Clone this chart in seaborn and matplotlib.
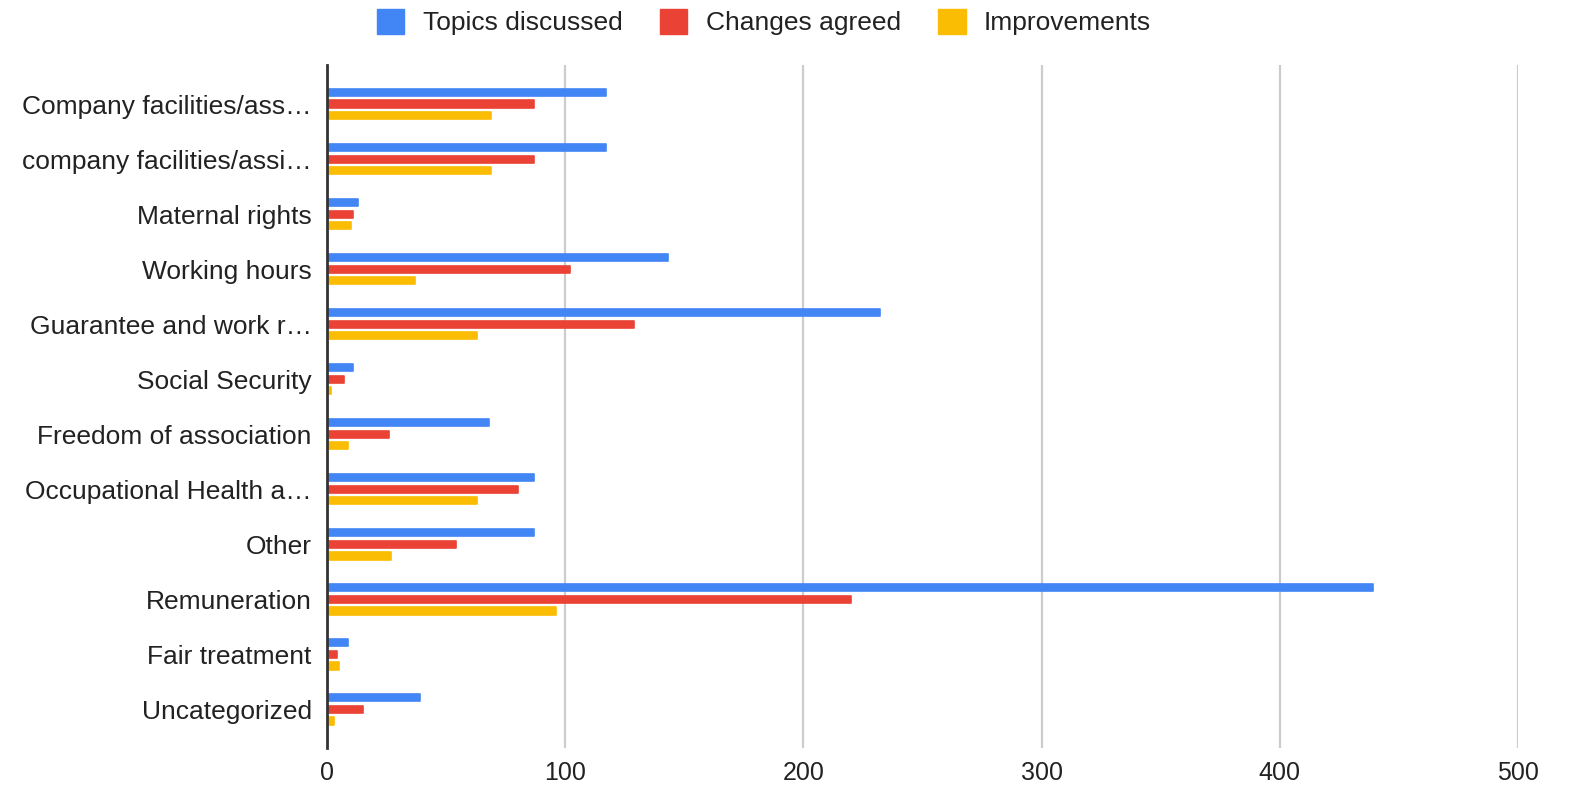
import numpy as np
import pandas as pd
import seaborn as sns
import matplotlib.pyplot as plt
from matplotlib.patches import Patch

# data
topics = ["Company facilities/ass\u2026", "company facilities/assi\u2026", "Maternal rights",
          "Working hours", "Guarantee and work r\u2026", "Social Security",
          "Freedom of association", "Occupational Health a\u2026", "Other",
          "Remuneration", "Fair treatment", "Uncategorized"]
discussed = [117, 117, 13, 143, 232, 11, 68, 87, 87, 439, 9, 39]
agreed = [87, 87, 11, 102, 129, 7, 26, 80, 54, 220, 4, 15]
improvements = [69, 69, 10, 37, 63, 1.5, 9, 63, 27, 96, 5, 3]

series = ["Topics discussed", "Changes agreed", "Improvements"]
colors = ["#4285F4", "#EA4335", "#FBBC04"]

df = pd.DataFrame({"topic": topics * 3,
                   "value": discussed + agreed + improvements,
                   "series": np.repeat(series, len(topics))})

sns.set_style("white")
plt.rcParams["font.family"] = ["Liberation Sans", "DejaVu Sans"]

fig = plt.figure(figsize=(15.73, 7.88), dpi=100)
ax = fig.add_axes([327 / 1573, 1 - 748 / 788, (1518 - 327) / 1573, (748 - 65) / 788])

sns.barplot(data=df, y="topic", x="value", hue="series", palette=colors,
            orient="h", width=0.63, gap=0.38, legend=False, ax=ax,
            saturation=1, linewidth=0)

# soften the bar ends a bit like google charts
for p in ax.patches:
    p.set_edgecolor(p.get_facecolor())
    p.set_linewidth(1.2)
    p.set_joinstyle("round")

ax.set_xlim(0, 500)
ax.set_ylim(11.7, -0.71)
ax.set_xticks([0, 100, 200, 300, 400, 500])
ax.xaxis.grid(True, color="#cccccc", linewidth=1.6)
ax.set_axisbelow(True)
for s in ["top", "right", "bottom"]:
    ax.spines[s].set_visible(False)
ax.spines["left"].set_color("#333333")
ax.spines["left"].set_linewidth(2)
ax.set_xlabel("")
ax.set_ylabel("")
ax.tick_params(axis="y", length=0, pad=11, labelsize=19, labelcolor="#222222")
ax.tick_params(axis="x", length=0, pad=9, labelsize=18, labelcolor="#222222")

handles = [Patch(facecolor=c, edgecolor=c) for c in colors]
fig.legend(handles, series, loc="center", bbox_to_anchor=(764 / 1573, 1 - 22 / 788),
           ncol=3, frameon=False, fontsize=19, handlelength=1.05, handleheight=1.1,
           handletextpad=0.7, columnspacing=1.4, labelcolor="#222222")

fig.savefig("out.png", dpi=100)
